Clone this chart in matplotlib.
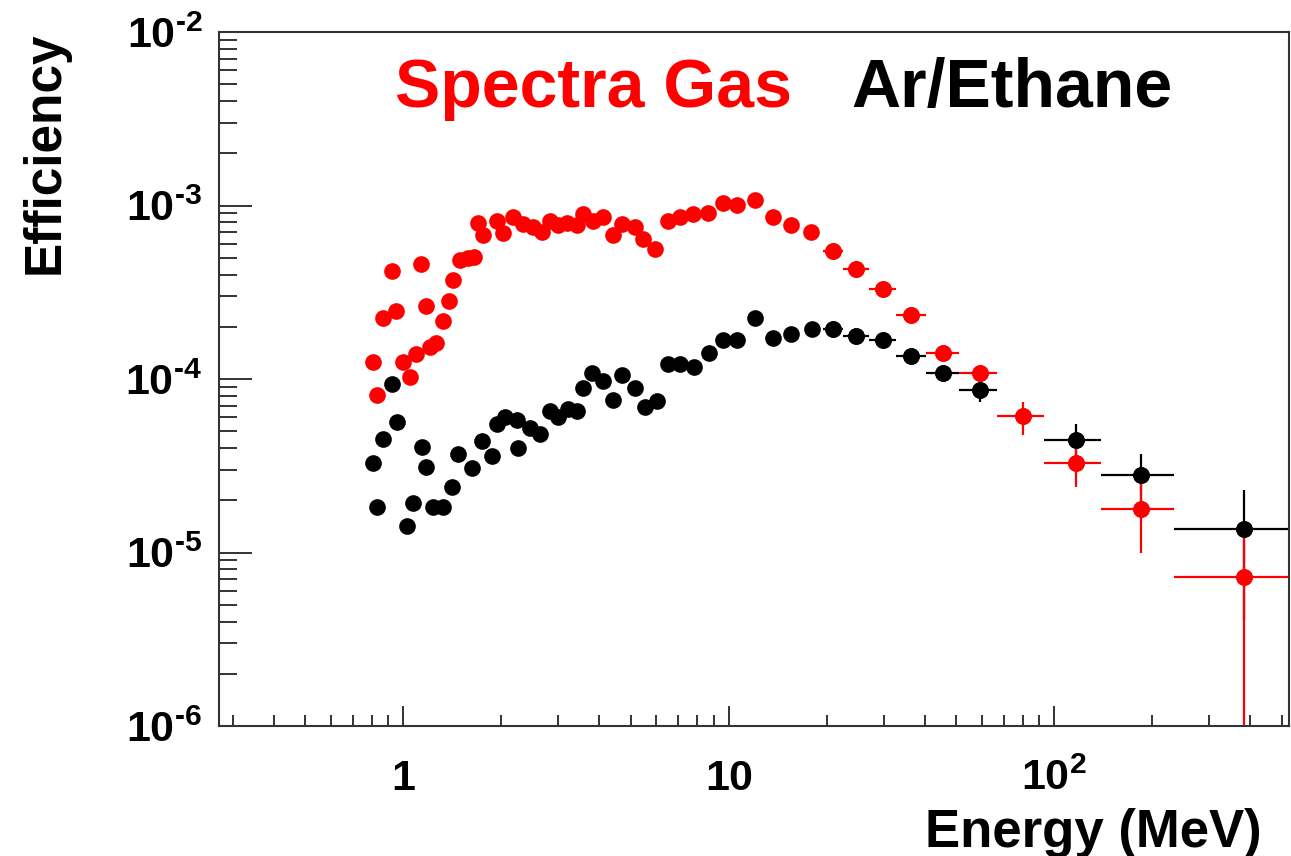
import matplotlib
matplotlib.use('Agg')
import matplotlib.pyplot as plt
import numpy as np
from matplotlib.ticker import LogLocator, NullFormatter

plt.rcParams['font.family'] = ['Liberation Sans', 'DejaVu Sans']
plt.rcParams['font.weight'] = 'bold'
plt.rcParams['mathtext.fontset'] = 'custom'
plt.rcParams['mathtext.rm'] = 'Liberation Sans:bold'
plt.rcParams['mathtext.bf'] = 'Liberation Sans:bold'
plt.rcParams['mathtext.it'] = 'Liberation Sans:bold'

# Spectra Gas efficiency vs energy (MeV)
red_E = [0.809, 0.832, 0.868, 0.925, 0.952, 1.000, 1.051, 1.096, 1.136, 1.177,
         1.210, 1.263, 1.327, 1.385, 1.424, 1.497, 1.584, 1.652, 1.700, 1.761,
         1.945, 2.029, 2.177, 2.337, 2.508, 2.673, 2.829, 2.994, 3.190, 3.424,
         3.573, 3.835, 4.116, 4.418, 4.708, 5.162, 5.463, 5.945, 6.520, 7.097,
         7.782, 8.650, 9.618, 10.62, 12.06, 13.70, 15.56, 17.93, 20.94, 24.65,
         29.84, 36.37, 45.60, 59.26, 80.3, 116.8, 185.1, 383.5]
red_eff = [1.245e-4, 8.14e-5, 2.26e-4, 4.22e-4, 2.48e-4, 1.245e-4, 1.03e-4, 1.40e-4, 4.63e-4, 2.62e-4,
           1.52e-4, 1.62e-4, 2.17e-4, 2.83e-4, 3.70e-4, 4.82e-4, 4.95e-4, 5.08e-4, 7.98e-4, 6.72e-4,
           8.19e-4, 6.90e-4, 8.53e-4, 7.87e-4, 7.47e-4, 6.99e-4, 8.19e-4, 7.67e-4, 7.98e-4, 7.67e-4,
           8.99e-4, 8.19e-4, 8.53e-4, 6.72e-4, 7.87e-4, 7.47e-4, 6.45e-4, 5.65e-4, 8.19e-4, 8.53e-4,
           8.99e-4, 9.11e-4, 1.027e-3, 1.013e-3, 1.069e-3, 8.64e-4, 7.77e-4, 7.08e-4, 5.50e-4, 4.33e-4,
           3.32e-4, 2.35e-4, 1.42e-4, 1.076e-4, 6.08e-5, 3.30e-5, 1.77e-5, 7.18e-6]
# bin edges and errors of the last (wide) bins
red_lo = [19.5, 22.5, 27.0, 32.7, 40.5, 51.2, 67.0, 93.0, 139.0, 234.0]
red_hi = [22.5, 27.0, 32.7, 40.5, 51.2, 67.0, 93.0, 139.0, 234.0, 630.0]
red_err = [1.5e-5, 1.5e-5, 1.4e-5, 1.2e-5, 1.0e-5, 0.9e-5, 1.3e-5, 0.9e-5, 0.77e-5, 0.72e-5]

# Ar/Ethane
blk_E = [0.809, 0.832, 0.868, 0.925, 0.955, 1.029, 1.073, 1.144, 1.177, 1.236,
         1.327, 1.414, 1.476, 1.629, 1.748, 1.877, 1.945, 2.058, 2.240, 2.256,
         2.455, 2.636, 2.829, 2.994, 3.213, 3.424, 3.573, 3.808, 4.116, 4.418,
         4.708, 5.162, 5.541, 6.030, 6.520, 7.097, 7.834, 8.712, 9.618, 10.62,
         12.06, 13.70, 15.56, 18.05, 20.94, 24.65, 29.84, 36.37, 45.60, 59.26,
         116.8, 185.1, 383.5]
blk_eff = [3.26e-5, 1.82e-5, 4.54e-5, 9.42e-5, 5.62e-5, 1.43e-5, 1.92e-5, 4.03e-5, 3.09e-5, 1.82e-5,
           1.82e-5, 2.37e-5, 3.72e-5, 3.05e-5, 4.42e-5, 3.62e-5, 5.54e-5, 6.00e-5, 5.77e-5, 3.98e-5,
           5.25e-5, 4.85e-5, 6.58e-5, 6.00e-5, 6.76e-5, 6.58e-5, 8.82e-5, 1.076e-4, 9.80e-5, 7.52e-5,
           1.061e-4, 8.82e-5, 6.94e-5, 7.42e-5, 1.228e-4, 1.228e-4, 1.165e-4, 1.403e-4, 1.689e-4, 1.667e-4,
           2.26e-4, 1.712e-4, 1.829e-4, 1.929e-4, 1.929e-4, 1.781e-4, 1.667e-4, 1.348e-4, 1.090e-4, 8.59e-5,
           4.48e-5, 2.78e-5, 1.357e-5]
blk_lo = [19.5, 22.5, 27.0, 32.7, 40.5, 51.2, 93.0, 139.0, 234.0]
blk_hi = [22.5, 27.0, 32.7, 40.5, 51.2, 67.0, 139.0, 234.0, 630.0]
blk_err = [1.0e-5, 1.0e-5, 1.0e-5, 1.0e-5, 1.0e-5, 1.26e-5, 1.06e-5, 0.94e-5, 0.95e-5]

xtick_vals = [1, 10, 100]
xtick_labels = [r'$\mathbf{1}$', r'$\mathbf{10}$', r'$\mathbf{10^{2}}$']
ytick_vals = [1e-6, 1e-5, 1e-4, 1e-3, 1e-2]
ytick_labels = [r'$\mathbf{10^{\text{-}6}}$', r'$\mathbf{10^{\text{-}5}}$', r'$\mathbf{10^{\text{-}4}}$',
                r'$\mathbf{10^{\text{-}3}}$', r'$\mathbf{10^{\text{-}2}}$']


def draw(ax, E, eff, lo, hi, err, color):
    E = np.array(E)
    eff = np.array(eff)
    n = len(err)
    ax.plot(E, eff, 'o', color=color, ms=12, mec='none')
    tE = E[-n:]
    ty = eff[-n:]
    xerr = [tE - np.array(lo), np.array(hi) - tE]
    # lower error never goes below zero
    yerr = [np.minimum(err, ty * 0.9999999), np.array(err)]
    ax.errorbar(tE, ty, xerr=xerr, yerr=yerr, fmt='o', color=color,
                ms=12, mec='none', elinewidth=1.6, capsize=0)


fig = plt.figure(figsize=(12.91, 8.56), dpi=100)
ax = fig.add_axes([219 / 1291, 1 - 726 / 856, 1070 / 1291, 694 / 856])
ax.set_xscale('log')
ax.set_yscale('log', nonpositive='clip')

draw(ax, blk_E, blk_eff, blk_lo, blk_hi, blk_err, 'black')
draw(ax, red_E, red_eff, red_lo, red_hi, red_err, '#ff0000')

ax.set_xlim(0.272, 527)
ax.set_ylim(1e-6, 1e-2)

ax.set_xticks(xtick_vals, labels=xtick_labels, va='baseline')
ax.set_yticks(ytick_vals, labels=ytick_labels)
ax.xaxis.set_minor_locator(LogLocator(base=10, subs=np.arange(2, 10), numticks=20))
ax.yaxis.set_minor_locator(LogLocator(base=10, subs=np.arange(2, 10), numticks=20))
ax.xaxis.set_minor_formatter(NullFormatter())
ax.yaxis.set_minor_formatter(NullFormatter())

ax.tick_params(which='both', direction='in', top=False, right=False,
               color='#333333', width=1.4, labelsize=31)
ax.tick_params(axis='y', which='major', length=23.5, pad=12)
ax.tick_params(axis='y', which='minor', length=13)
ax.tick_params(axis='x', which='major', length=14.5, pad=46)
ax.tick_params(axis='x', which='minor', length=8)
for s in ax.spines.values():
    s.set_linewidth(1.5)
    s.set_color('#333333')

ax.text(395 / 1291, 1 - 107 / 856, 'Spectra Gas', transform=fig.transFigure,
        color='#ff0000', fontsize=49, fontweight='bold', va='baseline')
ax.text(851 / 1291, 1 - 107 / 856, 'Ar/Ethane', transform=fig.transFigure,
        color='black', fontsize=49, fontweight='bold', va='baseline')

fig.text(45 / 1291, 1 - 31 / 856, 'Efficiency', rotation=90, ha='center', va='top',
         fontsize=37, fontweight='bold')
fig.text(1262 / 1291, 1 - 847 / 856, 'Energy (MeV)', ha='right', va='baseline',
         fontsize=38, fontweight='bold')

fig.savefig('out.png', dpi=100)
